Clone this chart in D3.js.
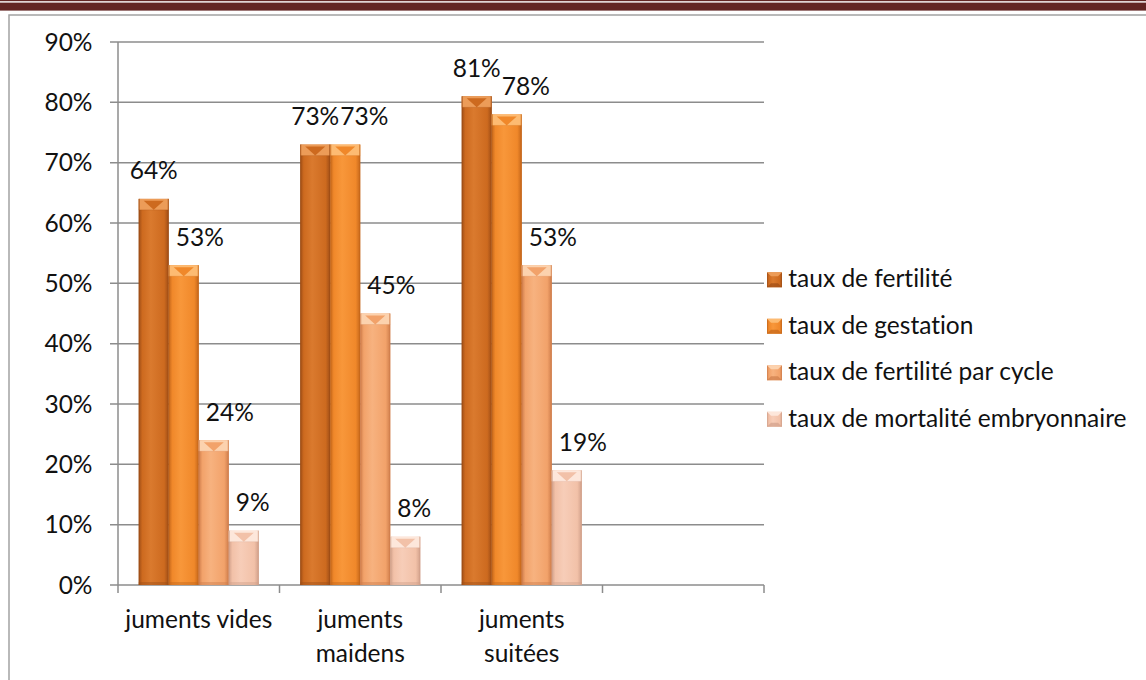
<!DOCTYPE html>
<html>
<head>
<meta charset="utf-8">
<script src="https://cdn.jsdelivr.net/npm/d3@7/dist/d3.min.js"></script>
<style>
  html, body { margin: 0; padding: 0; background: #fff; }
  svg { display: block; }
  text { font-family: Lato, "Open Sans", sans-serif; fill: #111; font-variant-ligatures: none; font-feature-settings: "liga" 0, "dlig" 0; }
</style>
</head>
<body>
<svg id="chart" width="1146" height="680"></svg>
<script>
// Categories (last slot is an empty category, as in the original workbook)
const categories = ["juments vides", "juments maidens", "juments suitées", ""];

// Series (in %)
const seriesNames = [
  "taux de fertilité",
  "taux de gestation",
  "taux de fertilité par cycle",
  "taux de mortalité embryonnaire"
];
const tauxFertilite = [64, 73, 81, null];
const tauxGestation = [53, 73, 78, null];
const tauxFertiliteCycle = [24, 45, 53, null];
const tauxMortalite = [9, 8, 19, null];

const yTicks = [0, 10, 20, 30, 40, 50, 60, 70, 80, 90];

// Bar shading per series: [edge, body, highlight, bevel]
const shades = [
  ["#9e4d16", "#cd6a1f", "#da7a2e", "#ec9c58"],
  ["#c4661a", "#f0882a", "#f8973a", "#fdbb72"],
  ["#cf7d4b", "#f2a26a", "#f7b27f", "#fcd2ae"],
  ["#d1a08a", "#f2c1a8", "#f7cdb8", "#fde7db"]
];

const seriesData = [tauxFertilite, tauxGestation, tauxFertiliteCycle, tauxMortalite];
const fontSize = "24.5px";

const svg = d3.select("#chart");
const defs = svg.append("defs");

// Page header rule and frame
svg.append("rect").attr("x", 0).attr("y", 0).attr("width", 1146).attr("height", 1.2).attr("fill", "#632523");
svg.append("rect").attr("x", 0).attr("y", 2.6).attr("width", 1146).attr("height", 8).attr("fill", "#632523");
svg.append("path")
  .attr("d", "M9,680 V15 H1146")
  .attr("fill", "none").attr("stroke", "#a3a3a3").attr("stroke-width", 1.5);

// Scales
const x = d3.scaleBand().domain(d3.range(categories.length)).range([118, 764]).paddingInner(0).paddingOuter(0);
const xs = d3.scaleBand().domain(d3.range(seriesNames.length)).range([0, x.bandwidth()]).paddingInner(0).paddingOuter(0.69);
const y = d3.scaleLinear().domain([0, 90]).range([585, 42]);

const gridColor = "#8c8c8c";

// Horizontal gridlines with outward ticks
svg.append("g").selectAll("line").data(yTicks).join("line")
  .attr("x1", 110).attr("x2", 764)
  .attr("y1", d => y(d)).attr("y2", d => y(d))
  .attr("stroke", gridColor).attr("stroke-width", 1.5);

// Y axis line
svg.append("line").attr("x1", 118).attr("x2", 118).attr("y1", y(90)).attr("y2", y(0))
  .attr("stroke", gridColor).attr("stroke-width", 1.5);

// Category tick marks
const catEdges = categories.map((c, i) => x(i)).concat([x(categories.length - 1) + x.bandwidth()]);
svg.append("g").selectAll("line").data(catEdges).join("line")
  .attr("x1", d => d).attr("x2", d => d)
  .attr("y1", y(0)).attr("y2", y(0) + 8)
  .attr("stroke", gridColor).attr("stroke-width", 1.5);

// Y tick labels
svg.append("g").selectAll("text").data(yTicks).join("text")
  .attr("x", 92.5).attr("y", d => y(d) + 8.5)
  .attr("text-anchor", "end")
  .style("font-size", fontSize)
  .text(d => d + "%");

// Gradients for bar bodies
shades.forEach((s, i) => {
  const g = defs.append("linearGradient").attr("id", "grad" + i)
    .attr("x1", "0%").attr("x2", "100%").attr("y1", "0%").attr("y2", "0%");
  g.append("stop").attr("offset", "0%").attr("stop-color", s[0]);
  g.append("stop").attr("offset", "12%").attr("stop-color", s[1]);
  g.append("stop").attr("offset", "40%").attr("stop-color", s[2]);
  g.append("stop").attr("offset", "85%").attr("stop-color", s[1]);
  g.append("stop").attr("offset", "100%").attr("stop-color", s[0]);
});

// Bars
const bars = [];
categories.forEach((c, ci) => {
  seriesData.forEach((arr, si) => {
    const v = arr[ci];
    if (v == null) return;
    bars.push({ ci, si, v, x: x(ci) + xs(si), w: xs.bandwidth(), top: y(v) });
  });
});

const barG = svg.append("g");
bars.forEach(b => {
  const g = barG.append("g");
  const h = y(0) - b.top;
  const s = shades[b.si];
  g.append("rect").attr("x", b.x).attr("y", b.top).attr("width", b.w).attr("height", h)
    .attr("fill", `url(#grad${b.si})`);
  // bevelled top
  const bev = Math.min(11, h);
  g.append("rect").attr("x", b.x).attr("y", b.top).attr("width", b.w).attr("height", bev)
    .attr("fill", s[3]);
  g.append("path")
    .attr("d", `M${b.x + 5},${b.top + 2} L${b.x + b.w - 5},${b.top + 2} L${b.x + b.w / 2},${b.top + bev} Z`)
    .attr("fill", s[1]);
  g.append("path")
    .attr("d", `M${b.x},${b.top + bev} L${b.x + b.w / 2},${b.top + bev} L${b.x + b.w},${b.top + bev}`)
    .attr("stroke", s[0]).attr("stroke-width", 0.6).attr("opacity", 0.35).attr("fill", "none");
  // side edges
  g.append("rect").attr("x", b.x).attr("y", b.top).attr("width", 1).attr("height", h).attr("fill", s[0]).attr("opacity", 0.8);
  g.append("rect").attr("x", b.x + b.w - 1).attr("y", b.top).attr("width", 1).attr("height", h).attr("fill", s[0]).attr("opacity", 0.8);
  // base shading
  g.append("rect").attr("x", b.x).attr("y", y(0) - 3).attr("width", b.w).attr("height", 3)
    .attr("fill", s[0]).attr("opacity", 0.45);
});

// Value labels: above each bar, nudged right past a taller neighbour or an adjacent label
const labelG = svg.append("g");
categories.forEach((c, ci) => {
  const grp = bars.filter(b => b.ci === ci);
  let prev = null;
  grp.forEach((b, k) => {
    const t = labelG.append("text").style("font-size", fontSize).text(b.v + "%");
    const w = t.node().getComputedTextLength();
    const base = b.top - 19.5;
    let left = b.x + b.w / 2 - w / 2;
    if (k > 0) {
      const pb = grp[k - 1];
      if (pb.top < base + 5) left = Math.max(left, pb.x + pb.w + 7);
      if (prev && Math.abs(prev.base - base) < 20 && left < prev.right + 1) left = prev.right + 1;
    }
    t.attr("x", left).attr("y", base);
    prev = { base, right: left + w };
  });
});

// Category labels, wrapped to the category width
const catG = svg.append("g");
categories.forEach((c, ci) => {
  if (!c) return;
  const cx = x(ci) + x.bandwidth() / 2;
  const t = catG.append("text").attr("text-anchor", "middle").style("font-size", fontSize)
    .attr("x", cx).attr("y", 627.5);
  const words = c.split(" ");
  let line = [];
  let tspan = t.append("tspan").attr("x", cx).attr("dy", 0);
  words.forEach(wd => {
    line.push(wd);
    tspan.text(line.join(" "));
    if (tspan.node().getComputedTextLength() > x.bandwidth() - 4 && line.length > 1) {
      line.pop();
      tspan.text(line.join(" "));
      line = [wd];
      tspan = t.append("tspan").attr("x", cx).attr("dy", 34).text(wd);
    }
  });
});

// Legend
const legendBase = [287.3, 333.8, 380.3, 426.8];
const legG = svg.append("g");
seriesNames.forEach((name, i) => {
  const s = shades[i];
  const sy = legendBase[i] - 15;
  legG.append("rect").attr("x", 767).attr("y", sy).attr("width", 15).attr("height", 15).attr("fill", `url(#grad${i})`);
  legG.append("path")
    .attr("d", `M767,${sy} H782 L778,${sy + 4} H771 Z`).attr("fill", s[3]);
  legG.append("path")
    .attr("d", `M767,${sy + 15} H782 L778,${sy + 11} H771 Z`).attr("fill", s[0]).attr("opacity", 0.7);
  legG.append("text").attr("x", 788.3).attr("y", legendBase[i]).style("font-size", fontSize).text(name);
});
</script>
</body>
</html>
